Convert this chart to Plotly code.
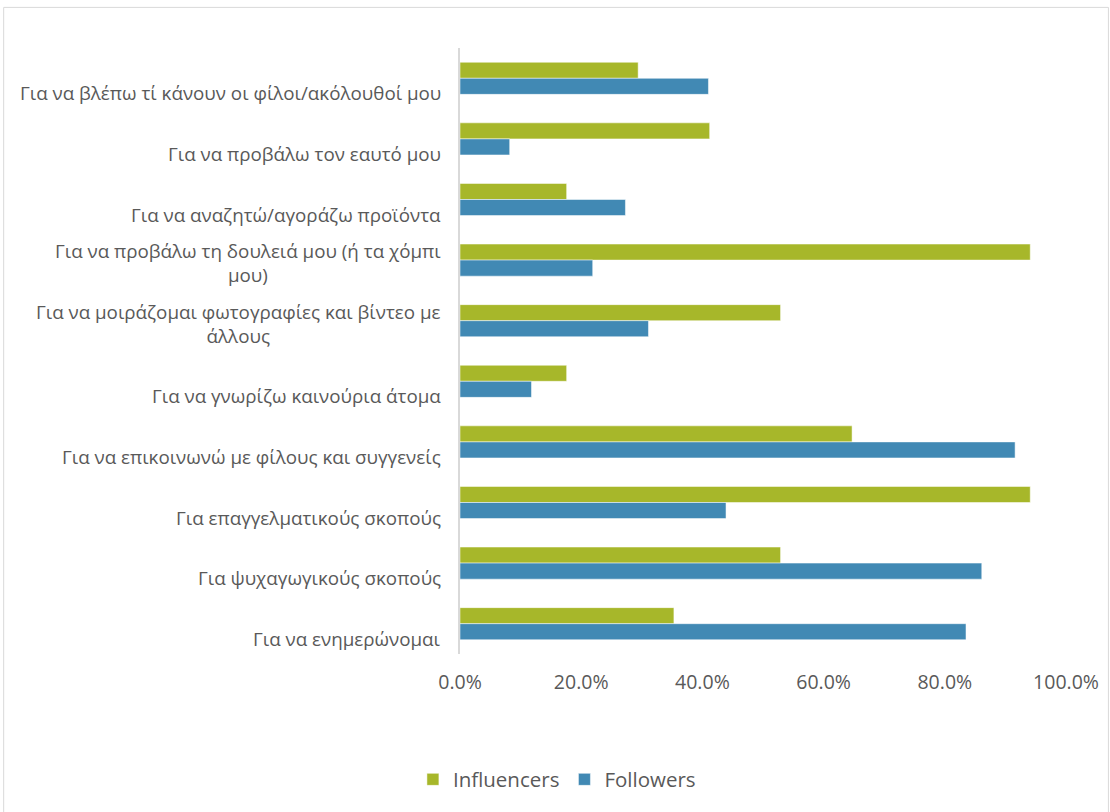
import plotly.graph_objects as go

categories = [
    "Για να βλέπω τί κάνουν οι φίλοι/ακόλουθοί μου",
    "Για να προβάλω τον εαυτό μου",
    "Για να αναζητώ/αγοράζω προϊόντα",
    "Για να προβάλω τη δουλειά μου (ή τα χόμπι<br>μου)",
    "Για να μοιράζομαι φωτογραφίες και βίντεο με<br>άλλους",
    "Για να γνωρίζω καινούρια άτομα",
    "Για να επικοινωνώ με φίλους και συγγενείς",
    "Για επαγγελματικούς σκοπούς",
    "Για ψυχαγωγικούς σκοπούς",
    "Για να ενημερώνομαι",
]
influencers = [0.294, 0.412, 0.176, 0.941, 0.529, 0.176, 0.647, 0.941, 0.529, 0.353]
followers = [0.410, 0.082, 0.273, 0.219, 0.311, 0.118, 0.916, 0.439, 0.861, 0.835]

GREEN = "#A7B72A"
BLUE = "#4189B4"
TXT = "#595959"
FONT = "Open Sans, Noto Sans, DejaVu Sans, sans-serif"

ids = list(range(len(categories)))

fig = go.Figure()
fig.add_trace(go.Bar(y=ids, x=influencers, orientation="h", name="Influencers",
                     marker=dict(color=GREEN, line=dict(color="rgba(255,255,255,0.5)", width=1))))
fig.add_trace(go.Bar(y=ids, x=followers, orientation="h", name="Followers",
                     marker=dict(color=BLUE, line=dict(color="rgba(255,255,255,0.5)", width=1))))

for i, c in enumerate(categories):
    fig.add_annotation(x=0, xref="paper", xanchor="right", xshift=-17,
                       y=i, yref="y", yanchor="bottom", yshift=-30,
                       text=c, showarrow=False, align="center",
                       font=dict(family=FONT, size=18.8, color=TXT))

fig.update_layout(
    width=1110, height=812,
    margin=dict(l=460, r=44, t=48, b=158),
    paper_bgcolor="white", plot_bgcolor="white",
    barmode="group", bargap=0.47, bargroupgap=0,
    font=dict(family=FONT, color=TXT),
    showlegend=True,
    legend=dict(orientation="h", xref="container", yref="container",
                x=0.372, xanchor="left", y=0.04, yanchor="middle",
                font=dict(size=20.5, color=TXT), traceorder="normal",
                itemwidth=30),
    xaxis=dict(range=[0, 1], tickformat=".1%", dtick=0.2, tick0=0,
               showgrid=False, zeroline=False, showline=False,
               tickfont=dict(size=19.5, color=TXT), ticklabelstandoff=14),
    yaxis=dict(autorange="reversed", showticklabels=False, showgrid=False,
               zeroline=False, showline=True, linecolor="#D9D9D9", linewidth=2,
               tickmode="array", tickvals=ids),
    shapes=[dict(type="rect", xref="paper", yref="paper",
                 x0=-0.753, x1=1.07, y0=-0.27, y1=1.067,
                 line=dict(color="#D9D9D9", width=1), fillcolor="rgba(0,0,0,0)",
                 layer="below")],
)

fig.write_html("out.html")
